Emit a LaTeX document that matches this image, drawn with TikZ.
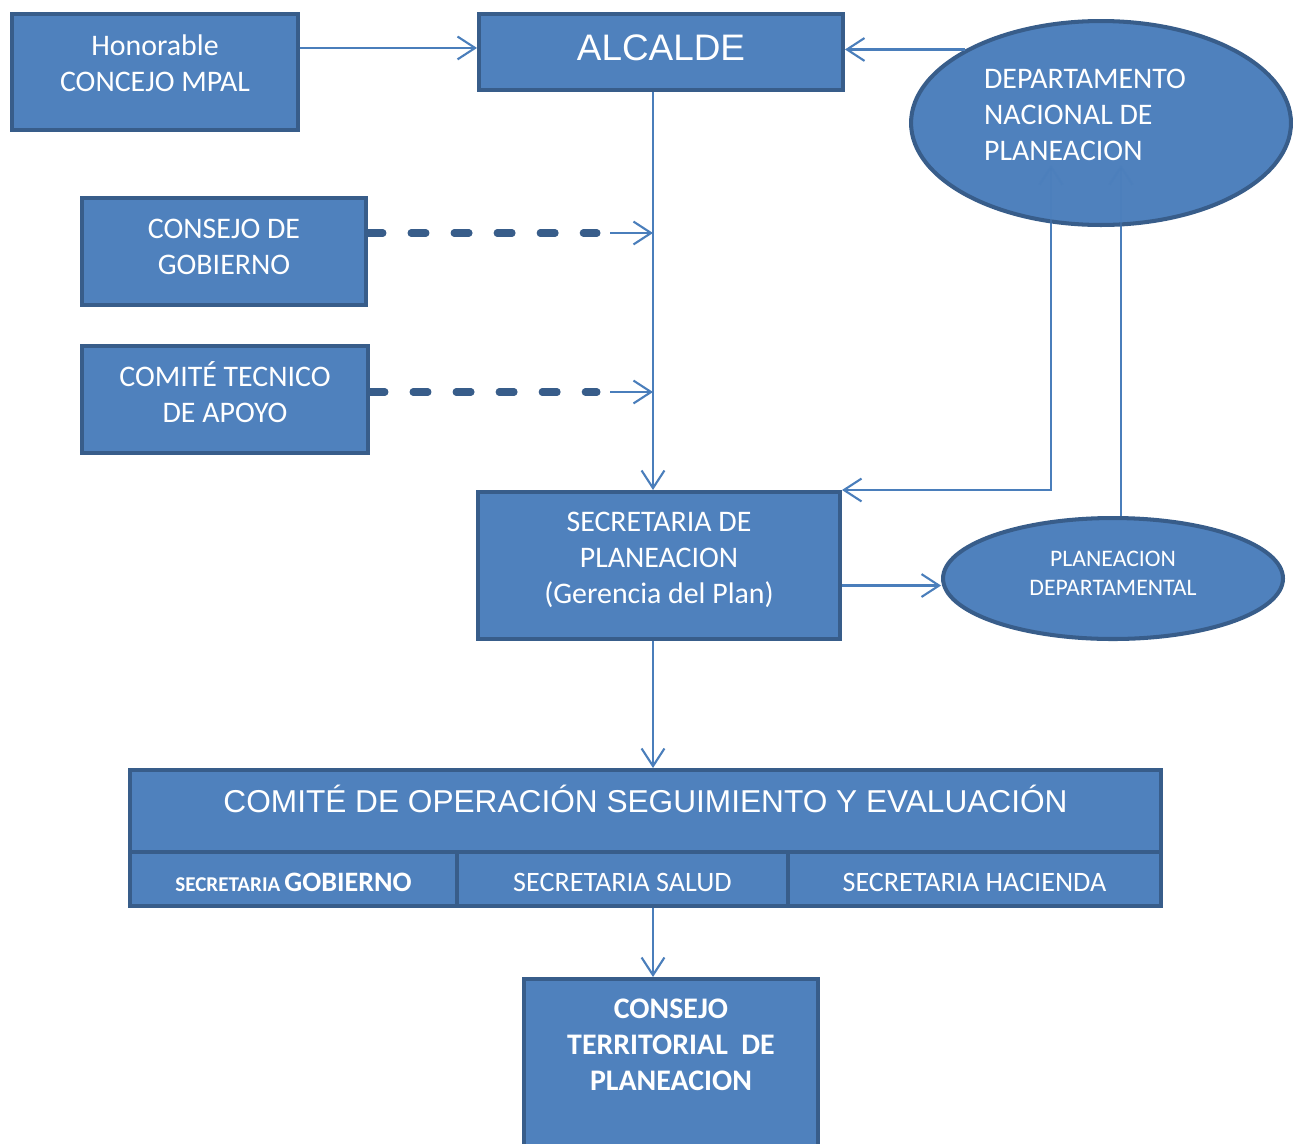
\documentclass[tikz,border=0pt]{standalone}
\usepackage{fontspec}
\setmainfont{Carlito}
\newfontfamily\arialfont{Liberation Sans}
\usetikzlibrary{positioning,arrows.meta,backgrounds,shapes.geometric}
\definecolor{orgFill}{RGB}{79,129,189}
\definecolor{orgLine}{RGB}{56,93,138}
\definecolor{orgArrow}{RGB}{74,126,187}

\tikzset{
  box/.style={draw=orgLine, fill=orgFill, line width=2.3pt, text=white, align=center, inner sep=0pt},
  oval/.style={ellipse, draw=orgLine, fill=orgFill, line width=2.3pt, text=white, inner sep=0pt},
  arr/.style={draw=orgArrow, line width=1.2pt, ->},
  dashline/.style={draw=orgLine, line width=4pt, line cap=round, dash pattern=on 8.5pt off 16pt},
  txt/.style={font=\fontsize{17}{20.5}\selectfont}
}

\begin{document}
\begin{tikzpicture}[x=0.02cm, y=-0.02cm, >={Straight Barb[length=10pt,width=13pt]}]
  \useasboundingbox (0,0) rectangle (1293,1143);

  % Top row
  \node[box, txt, text depth=10pt, minimum width=5.72cm, minimum height=2.32cm] (concejo) at (155,72) {Honorable\\CONCEJO MPAL};
  \node[box, text depth=4.6pt, minimum width=7.28cm, minimum height=1.52cm, font=\arialfont\fontsize{21}{25}\selectfont] (alcalde) at (661,52) {ALCALDE};
  \node[oval, txt, align=left, text depth=9pt, minimum width=7.6cm, minimum height=4.08cm] (dnp) at (1101,123) {DEPARTAMENTO\hspace*{0.64cm}\\NACIONAL DE\\PLANEACION};

  % Advisory bodies
  \node[box, txt, text depth=5.7pt, minimum width=5.68cm, minimum height=2.14cm] (gobierno) at (224,251.5) {CONSEJO DE\\GOBIERNO};
  \node[box, txt, text depth=8pt, minimum width=5.72cm, minimum height=2.14cm] (comite) at (225,399.5) {COMITÉ TECNICO\\DE APOYO};

  % Planning office
  \node[box, txt, text depth=9pt, minimum width=7.24cm, minimum height=2.94cm] (secplan) at (659,565.5) {SECRETARIA DE\\PLANEACION\\(Gerencia del Plan)};
  \node[oval, align=center, text depth=5.7pt, minimum width=6.8cm, minimum height=2.42cm, font=\fontsize{13.5}{16.5}\selectfont] (plandep) at (1113,578.5) {PLANEACION\\DEPARTAMENTAL};

  % Committee with its three offices
  \node[box, text depth=13.7pt, minimum width=20.62cm, minimum height=1.64cm, font=\arialfont\fontsize{18}{21}\selectfont] (cose) at (645.5,811) {COMITÉ DE OPERACIÓN SEGUIMIENTO Y EVALUACIÓN};
  \node[box, text height=14.8pt, minimum width=6.54cm, minimum height=1.08cm, font=\bfseries] (cose1) at (293.5,879) {{\fontsize{12}{14}\selectfont SECRETARIA} {\fontsize{16}{19}\selectfont GOBIERNO}};
  \node[box, text height=14.8pt, minimum width=6.62cm, minimum height=1.08cm, font=\fontsize{16}{19}\selectfont] (cose2) at (622.5,879) {SECRETARIA SALUD};
  \node[box, text height=14.8pt, minimum width=7.46cm, minimum height=1.08cm, font=\fontsize{16}{19}\selectfont] (cose3) at (974.5,879) {SECRETARIA HACIENDA};

  % Territorial council
  \node[box, anchor=north, text depth=24.5pt, minimum width=5.88cm, minimum height=3.5cm, font=\bfseries\fontsize{17}{20.5}\selectfont] (consterr) at (671,977) {CONSEJO\\TERRITORIAL~~DE\\PLANEACION};

  % Main line
  \coordinate (axis) at (653,0);
  \coordinate (alcin) at ([yshift=2.3pt]alcalde.west);
  \coordinate (pdin) at ([yshift=-4pt]plandep.west);
  \draw[arr] (concejo.east |- alcin) -- (alcin);
  \draw[arr] (dnp.north west) -- (dnp.north west -| alcalde.east);
  \draw[arr] (alcalde.south -| axis) -- (secplan.north -| axis);
  \draw[arr] (secplan.south -| axis) -- (cose.north -| axis);
  \draw[arr] (cose2.south -| axis) -- (consterr.north -| axis);
  \draw[arr] (secplan.east |- pdin) -- (pdin);

  % Dashed advice links
  \coordinate (gobdash) at (597,233);
  \coordinate (comdash) at (597,392);
  \draw[dashline] (gobierno.east |- gobdash) -- (gobdash);
  \draw[arr] ([xshift=0.26cm]gobdash) -- (gobdash -| axis);
  \draw[dashline] (comite.east |- comdash) -- (comdash);
  \draw[arr] ([xshift=0.26cm]comdash) -- (comdash -| axis);

  % Links to the national department
  \coordinate (dnpleft) at (1051,165);
  \coordinate (dnpright) at (1121,165);
  \begin{scope}[on background layer]
    \draw[arr, <->] (dnpleft) |- (secplan.north east);
    \draw[arr] (plandep.north -| dnpright) -- (dnpright);
  \end{scope}
  \draw[arr, opacity=0.45] (dnp.south -| dnpleft) -- (dnpleft);
  \draw[arr, opacity=0.45] (dnp.south -| dnpright) -- (dnpright);
\end{tikzpicture}
\end{document}
